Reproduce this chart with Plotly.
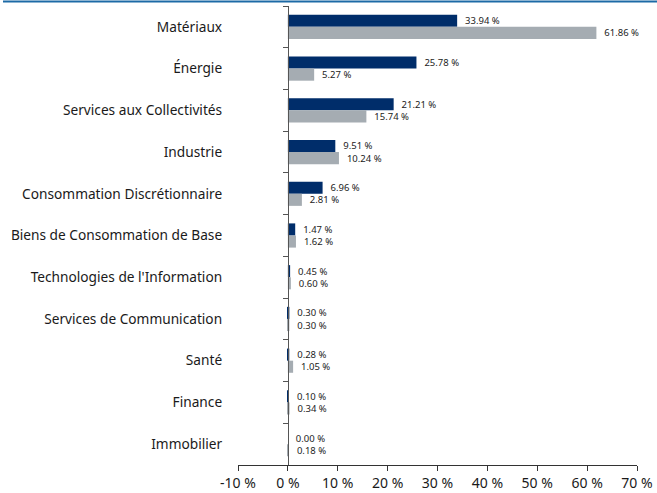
import plotly.graph_objects as go

categories = ["Matériaux", "Énergie", "Services aux Collectivités", "Industrie",
              "Consommation Discrétionnaire", "Biens de Consommation de Base",
              "Technologies de l'Information", "Services de Communication",
              "Santé", "Finance", "Immobilier"]
series_a = [33.94, 25.78, 21.21, 9.51, 6.96, 1.47, 0.45, 0.30, 0.28, 0.10, 0.00]
series_b = [61.86, 5.27, 15.74, 10.24, 2.81, 1.62, 0.60, 0.30, 1.05, 0.34, 0.18]
x_ticks = [-10, 0, 10, 20, 30, 40, 50, 60, 70]
x_tick_labels = ["-10 %", "0 %", "10 %", "20 %", "30 %", "40 %", "50 %", "60 %", "70 %"]

W, H = 657, 493
ML, MR, MT, MB = 238, 20, 6, 28

fig = go.Figure()
for vals, color in [(series_a, "#002D6A"), (series_b, "#A5ACB2")]:
    fig.add_trace(go.Bar(
        y=categories, x=vals, orientation="h",
        marker=dict(color=color, line=dict(width=0)),
        text=["\u00a0\u00a0" + f"{v:.2f} %" for v in vals],
        textposition="outside",
        textfont=dict(size=9.5, color="#222222", family="Noto Sans"),
        constraintext="none",
        cliponaxis=False,
        showlegend=False,
    ))

pw = W - ML - MR
fig.add_shape(type="line", xref="paper", yref="paper",
              x0=-(ML - 3) / pw, x1=(W - ML) / pw,
              y0=1 + (MT - 1.5) / (H - MT - MB), y1=1 + (MT - 1.5) / (H - MT - MB),
              line=dict(color="#1C6AA6", width=2))

fig.update_layout(
    width=W, height=H,
    margin=dict(l=ML, r=MR, t=MT, b=MB, autoexpand=False),
    paper_bgcolor="white", plot_bgcolor="white",
    barmode="group", bargap=0.42, bargroupgap=0,
    font=dict(family="Noto Sans", color="#1a1a1a"),
    xaxis=dict(range=[-10, 70], tickvals=x_ticks, ticktext=x_tick_labels,
               showgrid=False, zeroline=False, showline=True, linecolor="#333333",
               linewidth=1, ticks="outside", ticklen=5, tickcolor="#333333",
               tickfont=dict(size=14, color="#1a1a1a"), automargin=False),
    yaxis=dict(categoryorder="array", categoryarray=categories, autorange="reversed",
               anchor="free", position=0.125, showline=True, linecolor="#555555",
               linewidth=1, ticks="outside", ticklen=5, tickcolor="#555555",
               tickson="boundaries", showgrid=False, zeroline=False,
               ticklabelstandoff=63, tickfont=dict(size=13.7, color="#1a1a1a"),
               automargin=False),
)

fig.write_html("out.html", config={"displayModeBar": False},
               post_script="document.body.style.margin='0';")
